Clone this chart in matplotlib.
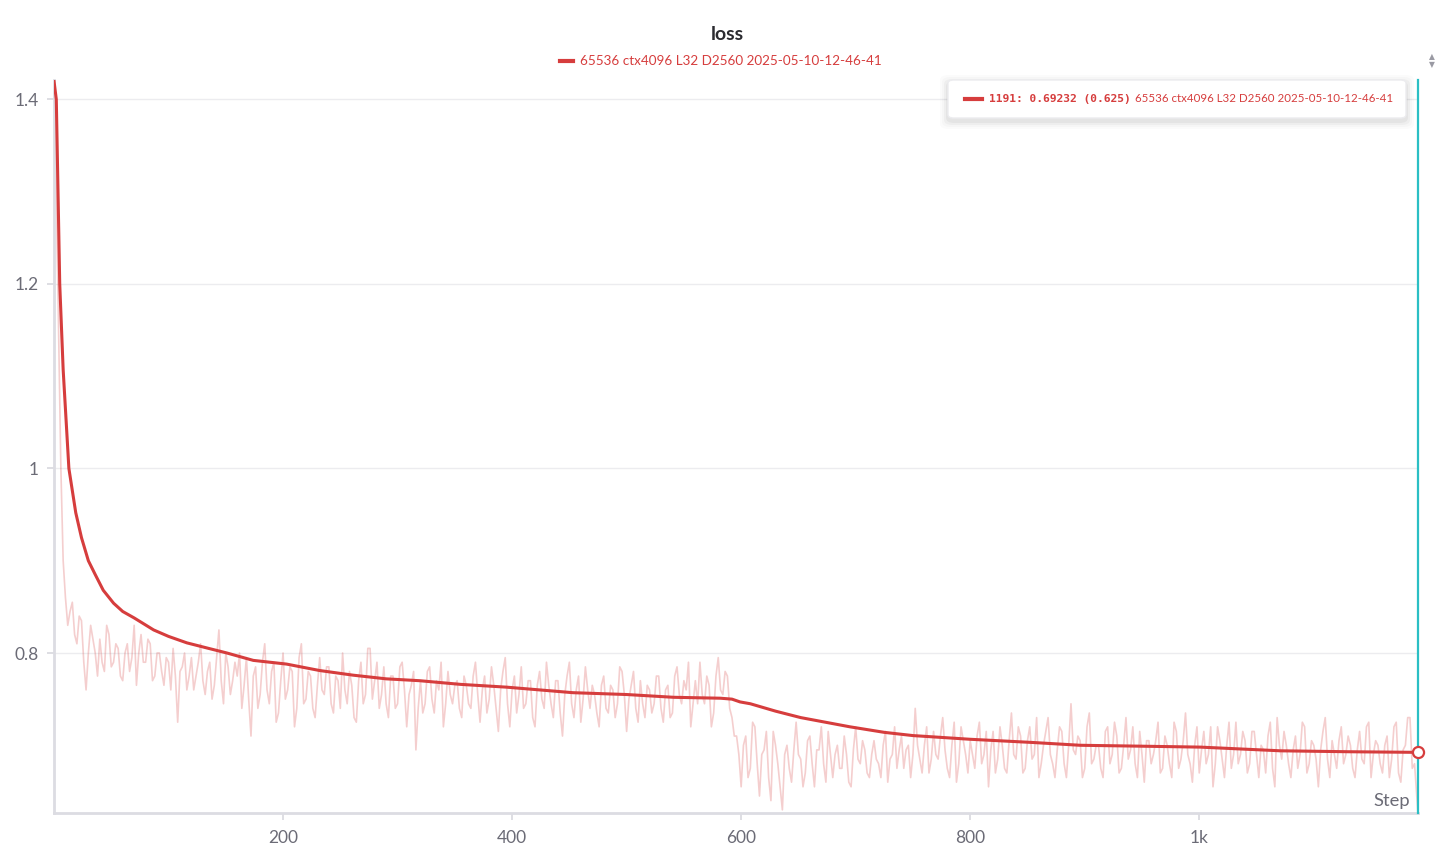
import numpy as np
import matplotlib.pyplot as plt
from matplotlib.patches import FancyBboxPatch

plt.rcParams['font.family'] = ['Lato', 'DejaVu Sans']

# raw loss, read every 2 steps (0..1188), last point = step 1191
raw_loss = [
    1.42, 1.30, 1.15, 1.00, 0.90, 0.86, 0.83, 0.845, 0.855, 0.82, 0.81, 0.84, 0.835, 0.79, 0.76, 0.80, 0.83, 0.815, 0.80, 0.775,
    0.815, 0.79, 0.78, 0.83, 0.82, 0.785, 0.79, 0.81, 0.805, 0.775, 0.77, 0.80, 0.81, 0.78, 0.795, 0.83, 0.765, 0.80, 0.82, 0.79,
    0.79, 0.815, 0.81, 0.77, 0.775, 0.80, 0.80, 0.78, 0.765, 0.795, 0.79, 0.76, 0.805, 0.775, 0.725, 0.78, 0.785, 0.80, 0.76, 0.775,
    0.795, 0.76, 0.775, 0.79, 0.81, 0.77, 0.755, 0.78, 0.79, 0.75, 0.765, 0.795, 0.825, 0.77, 0.745, 0.80, 0.785, 0.755, 0.77, 0.79,
    0.775, 0.80, 0.74, 0.765, 0.795, 0.75, 0.71, 0.775, 0.785, 0.74, 0.755, 0.79, 0.81, 0.76, 0.745, 0.78, 0.79, 0.725, 0.735, 0.77,
    0.80, 0.75, 0.76, 0.785, 0.78, 0.72, 0.74, 0.795, 0.81, 0.745, 0.75, 0.78, 0.775, 0.74, 0.73, 0.765, 0.795, 0.76, 0.755, 0.785,
    0.785, 0.745, 0.735, 0.775, 0.77, 0.74, 0.80, 0.76, 0.745, 0.78, 0.765, 0.73, 0.725, 0.77, 0.79, 0.745, 0.755, 0.805, 0.805, 0.75,
    0.77, 0.79, 0.74, 0.755, 0.785, 0.745, 0.73, 0.775, 0.775, 0.74, 0.745, 0.785, 0.79, 0.76, 0.72, 0.755, 0.765, 0.78, 0.695, 0.74,
    0.77, 0.735, 0.745, 0.78, 0.785, 0.75, 0.735, 0.77, 0.76, 0.79, 0.72, 0.745, 0.78, 0.755, 0.745, 0.765, 0.77, 0.74, 0.73, 0.775,
    0.765, 0.745, 0.74, 0.775, 0.79, 0.755, 0.725, 0.76, 0.775, 0.735, 0.75, 0.785, 0.765, 0.74, 0.715, 0.76, 0.78, 0.795, 0.745, 0.72,
    0.76, 0.775, 0.735, 0.755, 0.785, 0.74, 0.745, 0.77, 0.77, 0.73, 0.72, 0.765, 0.78, 0.75, 0.74, 0.79, 0.765, 0.745, 0.73, 0.77,
    0.77, 0.735, 0.71, 0.755, 0.775, 0.79, 0.745, 0.73, 0.76, 0.775, 0.725, 0.75, 0.785, 0.76, 0.74, 0.765, 0.755, 0.735, 0.72, 0.765,
    0.775, 0.74, 0.735, 0.765, 0.76, 0.73, 0.745, 0.785, 0.78, 0.755, 0.715, 0.75, 0.765, 0.78, 0.74, 0.725, 0.77, 0.745, 0.73, 0.765,
    0.76, 0.735, 0.745, 0.775, 0.775, 0.74, 0.725, 0.76, 0.765, 0.73, 0.735, 0.775, 0.785, 0.755, 0.745, 0.77, 0.76, 0.79, 0.72, 0.745,
    0.77, 0.745, 0.79, 0.755, 0.745, 0.775, 0.765, 0.72, 0.735, 0.775, 0.795, 0.76, 0.755, 0.78, 0.775, 0.74, 0.73, 0.71, 0.71, 0.69,
    0.655, 0.70, 0.71, 0.665, 0.675, 0.725, 0.72, 0.68, 0.645, 0.69, 0.695, 0.715, 0.665, 0.64, 0.715, 0.70, 0.68, 0.655, 0.63, 0.69,
    0.70, 0.675, 0.66, 0.695, 0.725, 0.69, 0.685, 0.655, 0.67, 0.705, 0.71, 0.68, 0.655, 0.695, 0.695, 0.72, 0.68, 0.66, 0.715, 0.69,
    0.665, 0.69, 0.70, 0.675, 0.675, 0.71, 0.69, 0.66, 0.655, 0.695, 0.72, 0.685, 0.68, 0.705, 0.695, 0.67, 0.665, 0.69, 0.705, 0.685,
    0.68, 0.665, 0.70, 0.715, 0.66, 0.685, 0.69, 0.72, 0.675, 0.695, 0.71, 0.675, 0.695, 0.70, 0.665, 0.69, 0.74, 0.70, 0.685, 0.67,
    0.70, 0.72, 0.67, 0.685, 0.715, 0.69, 0.685, 0.71, 0.73, 0.695, 0.675, 0.665, 0.70, 0.725, 0.66, 0.68, 0.72, 0.705, 0.69, 0.67,
    0.705, 0.69, 0.675, 0.71, 0.725, 0.68, 0.69, 0.715, 0.655, 0.695, 0.715, 0.67, 0.685, 0.72, 0.70, 0.675, 0.67, 0.705, 0.735, 0.69,
    0.685, 0.72, 0.71, 0.67, 0.675, 0.705, 0.72, 0.685, 0.69, 0.73, 0.665, 0.68, 0.70, 0.715, 0.73, 0.69, 0.68, 0.665, 0.695, 0.72,
    0.715, 0.68, 0.665, 0.70, 0.745, 0.695, 0.69, 0.71, 0.705, 0.665, 0.675, 0.72, 0.735, 0.68, 0.685, 0.70, 0.70, 0.675, 0.665, 0.715,
    0.72, 0.68, 0.69, 0.725, 0.71, 0.67, 0.675, 0.70, 0.73, 0.685, 0.695, 0.72, 0.68, 0.665, 0.715, 0.69, 0.66, 0.705, 0.705, 0.68,
    0.69, 0.705, 0.725, 0.67, 0.675, 0.71, 0.70, 0.68, 0.665, 0.725, 0.715, 0.675, 0.685, 0.705, 0.735, 0.69, 0.68, 0.66, 0.70, 0.72,
    0.67, 0.695, 0.715, 0.68, 0.69, 0.72, 0.655, 0.68, 0.72, 0.705, 0.685, 0.665, 0.70, 0.725, 0.675, 0.69, 0.725, 0.68, 0.69, 0.715,
    0.705, 0.67, 0.68, 0.715, 0.715, 0.69, 0.665, 0.70, 0.695, 0.67, 0.71, 0.725, 0.675, 0.655, 0.73, 0.70, 0.685, 0.715, 0.70, 0.68,
    0.665, 0.695, 0.71, 0.675, 0.69, 0.725, 0.72, 0.67, 0.68, 0.705, 0.70, 0.685, 0.655, 0.695, 0.715, 0.73, 0.685, 0.665, 0.705, 0.69,
    0.675, 0.705, 0.72, 0.68, 0.69, 0.71, 0.70, 0.675, 0.665, 0.695, 0.715, 0.685, 0.68, 0.72, 0.725, 0.665, 0.69, 0.705, 0.70, 0.68,
    0.67, 0.70, 0.71, 0.665, 0.685, 0.72, 0.725, 0.67, 0.66, 0.695, 0.70, 0.73, 0.73, 0.675, 0.68,
    0.625,
]
raw_steps = list(range(0, 2 * (len(raw_loss) - 1), 2)) + [1191]

# smoothed loss
smooth_steps = [0, 2, 5, 8, 13, 19, 24, 30, 36, 43, 52, 60, 70, 87, 100,
                116, 135, 151, 174, 203, 232, 261, 290, 319, 355, 395, 453,
                500, 541, 582, 592, 599, 608, 630, 652, 695, 725, 750, 775,
                800, 855, 896, 950, 1001, 1071, 1130, 1191]
smooth_loss = [1.42, 1.40, 1.20, 1.107, 1.00, 0.952, 0.925, 0.90, 0.885,
               0.868, 0.854, 0.845, 0.838, 0.825, 0.818, 0.811, 0.805, 0.800,
               0.792, 0.788, 0.781, 0.776, 0.772, 0.770, 0.766, 0.763, 0.757,
               0.755, 0.752, 0.751, 0.750, 0.747, 0.745, 0.737, 0.730, 0.720,
               0.714, 0.7105, 0.7085, 0.7065, 0.703, 0.700, 0.699, 0.698,
               0.694, 0.693, 0.69232]

x_ticks = [200, 400, 600, 800, 1000]
x_labels = ['200', '400', '600', '800', '1k']
y_ticks = [0.8, 1.0, 1.2, 1.4]
y_labels = ['0.8', '1', '1.2', '1.4']

run_name = '65536 ctx4096 L32 D2560 2025-05-10-12-46-41'
red = '#d63d3d'
grey = '#6b6b76'

fig = plt.figure(figsize=(14.4, 8.49), dpi=100)
ax = fig.add_axes([54 / 1440, 1 - 813 / 849, (1418 - 54) / 1440, (813 - 80) / 849])

ax.plot(raw_steps, raw_loss, color=red, alpha=0.25, lw=1.2, zorder=2)
ax.plot(smooth_steps, smooth_loss, color=red, lw=2.2, zorder=3)
ax.axvline(1191, color='#2bbfc4', lw=1.6, zorder=4, clip_on=False)
ax.plot([smooth_steps[-1]], [smooth_loss[-1]], 'o', ms=8, mfc='white',
        mec=red, mew=1.6, zorder=5, clip_on=False)

ax.set_xlim(0, 1191)
ax.set_ylim(0.6266, 1.421)
ax.set_xticks(x_ticks, x_labels)
ax.set_yticks(y_ticks, y_labels)
ax.tick_params(colors='#d8d8de', labelcolor=grey, labelsize=12.5,
               length=5, width=1.2)
ax.tick_params(axis='y', pad=6)
ax.tick_params(axis='x', pad=7)
ax.grid(axis='y', color='#ececef', lw=1)
ax.set_axisbelow(True)
for s in ['top', 'right']:
    ax.spines[s].set_visible(False)
for s in ['left', 'bottom']:
    ax.spines[s].set_color('#dcdce2')
    ax.spines[s].set_linewidth(2)

ax.text(0.9945, 0.005, 'Step', transform=ax.transAxes, ha='right',
        va='bottom', fontsize=13.2, color=grey)

# title + legend
fig.text(727 / 1440, 1 - 35 / 849, 'loss', ha='center', va='center',
         fontsize=14, fontweight='bold', color='#2b2b30')
fig.lines.append(plt.Line2D([560 / 1440, 573 / 1440], [1 - 61 / 849] * 2,
                            color=red, lw=3, transform=fig.transFigure))
fig.text(580 / 1440, 1 - 61 / 849, run_name, ha='left', va='center',
         fontsize=9.7, color=red)

# scroll arrows
fig.text(1432 / 1440, 1 - 57 / 849, '\u25b2', ha='center', va='center',
         fontsize=5.5, color='#9a9aa3')
fig.text(1432 / 1440, 1 - 65 / 849, '\u25bc', ha='center', va='center',
         fontsize=5.5, color='#9a9aa3')

# tooltip
bx0, bx1, by0, by1 = 948, 1406, 80, 118
for k, a in [(8, 0.015), (6, 0.02), (4, 0.03), (2, 0.04)]:
    fig.patches.append(FancyBboxPatch(
        ((bx0 - k) / 1440, 1 - (by1 + k + 3) / 849),
        (bx1 - bx0 + 2 * k) / 1440, (by1 - by0 + 2 * k) / 849,
        boxstyle='round,pad=0,rounding_size=0.006', transform=fig.transFigure,
        fc='black', ec='none', alpha=a, zorder=8))
fig.patches.append(FancyBboxPatch(
    (bx0 / 1440, 1 - by1 / 849), (bx1 - bx0) / 1440, (by1 - by0) / 849,
    boxstyle='round,pad=0,rounding_size=0.004', transform=fig.transFigure,
    fc='white', ec='#ececef', lw=1, zorder=9))
fig.lines.append(plt.Line2D([965 / 1440, 982 / 1440], [1 - 99 / 849] * 2,
                            color=red, lw=3, transform=fig.transFigure,
                            zorder=10))
fig.text(989 / 1440, 1 - 99 / 849, '1191: 0.69232 (0.625)', ha='left',
         va='center', fontsize=8.1, fontweight='bold', color=red,
         family='DejaVu Sans Mono', zorder=10)
fig.text(1135 / 1440, 1 - 99 / 849, run_name, ha='left', va='center',
         fontsize=8.3, color=red, zorder=10)

fig.savefig('out.png', dpi=100)
